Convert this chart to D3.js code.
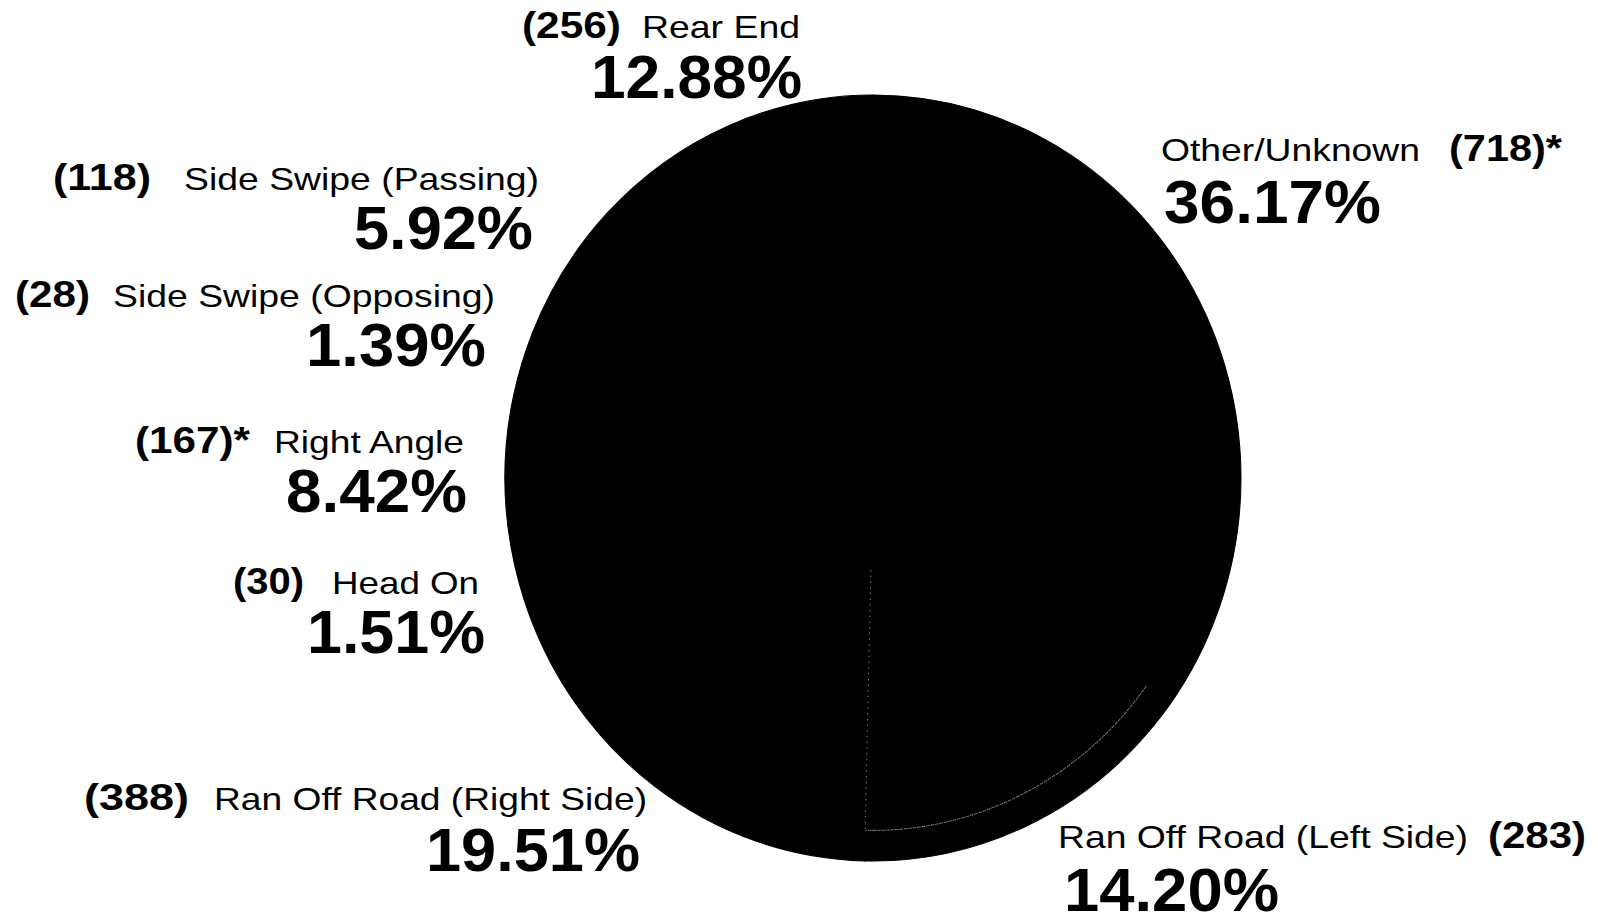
<!DOCTYPE html>
<html>
<head>
<meta charset="utf-8">
<script src="https://cdn.jsdelivr.net/npm/d3@7/dist/d3.min.js"></script>
<style>
  html, body { margin: 0; padding: 0; background: #fff; }
  svg { display: block; }
  text { font-family: "Liberation Sans Narrow", "Liberation Sans", Arial, Helvetica, sans-serif; fill: #000; }
</style>
</head>
<body>
<svg id="chart" width="1598" height="924"></svg>
<script>
// Crash types, clockwise from 12 o'clock
const categories = [
  "Other/Unknown",
  "Ran Off Road (Left Side)",
  "Ran Off Road (Right Side)",
  "Head On",
  "Right Angle",
  "Side Swipe (Opposing)",
  "Side Swipe (Passing)",
  "Rear End"
];
const counts = [718, 283, 388, 30, 167, 28, 118, 256];
const percents = [36.17, 14.20, 19.51, 1.51, 8.42, 1.39, 5.92, 12.88];
const countNotes = ["*", "", "", "", "*", "", "", ""];

// Label placement: count/name line and percent line for each slice
const labelLayout = [
  { nameX: 1161, nameW: 259, countX: 1449, countW: 113, y1: 161, pctX: 1164, pctW: 217, y2: 223 },
  { nameX: 1058, nameW: 410, countX: 1488, countW: 98,  y1: 848, pctX: 1064, pctW: 215, y2: 911 },
  { countX: 84,  countW: 105, nameX: 214, nameW: 433, y1: 810, pctX: 426,  pctW: 214, y2: 871 },
  { countX: 233, countW: 71,  nameX: 332, nameW: 147, y1: 594, pctX: 307,  pctW: 178, y2: 653 },
  { countX: 135, countW: 115, nameX: 274, nameW: 190, y1: 453, pctX: 286,  pctW: 181, y2: 512 },
  { countX: 15,  countW: 75,  nameX: 113, nameW: 382, y1: 307, pctX: 306,  pctW: 180, y2: 366 },
  { countX: 53,  countW: 98,  nameX: 184, nameW: 355, y1: 190, pctX: 354,  pctW: 179, y2: 249 },
  { countX: 522, countW: 99,  nameX: 642, nameW: 158, y1: 38,  pctX: 591,  pctW: 211, y2: 98 }
];

const svg = d3.select("#chart");

// Pie geometry (slightly taller than wide)
const cx = 873, cy = 478, rx = 368, ry = 383;

const slices = d3.pie().sort(null).value(d => d)(percents);
const arc = d3.arc().innerRadius(0).outerRadius(rx);

const pieG = svg.append("g")
  .attr("transform", `translate(${cx},${cy}) scale(1,${ry / rx})`);

pieG.selectAll("path.slice")
  .data(slices)
  .join("path")
  .attr("class", "slice")
  .attr("d", arc)
  .attr("fill", "#000")
  .attr("stroke", "#000")
  .attr("stroke-width", 1);

// Faint dotted outline inside the left-side run-off slice
const left = slices[1];
const inner = rx * 0.92;
const outlineArc = d3.arc().innerRadius(inner).outerRadius(inner)
  .startAngle(left.startAngle - 0.07).endAngle(left.endAngle);
pieG.append("path")
  .attr("d", outlineArc())
  .attr("fill", "none")
  .attr("stroke", "#8a8a8a")
  .attr("stroke-width", 1)
  .attr("stroke-dasharray", "1.5 3");
const p0 = d3.pointRadial(left.endAngle, rx * 0.24);
const p1 = d3.pointRadial(left.endAngle, inner);
pieG.append("line")
  .attr("x1", p0[0]).attr("y1", p0[1])
  .attr("x2", p1[0]).attr("y2", p1[1])
  .attr("stroke", "#777")
  .attr("stroke-width", 1)
  .attr("stroke-dasharray", "1.5 4");

// Labels
const fmtPct = d3.format(".2f");
const labels = svg.append("g").attr("class", "labels");

categories.forEach((name, i) => {
  const L = labelLayout[i];
  labels.append("text")
    .attr("x", L.countX).attr("y", L.y1)
    .attr("font-size", 37).attr("font-weight", "bold")
    .attr("textLength", L.countW).attr("lengthAdjust", "spacingAndGlyphs")
    .text(`(${counts[i]})${countNotes[i]}`);
  labels.append("text")
    .attr("x", L.nameX).attr("y", L.y1)
    .attr("font-size", 32)
    .attr("textLength", L.nameW).attr("lengthAdjust", "spacingAndGlyphs")
    .text(name);
  labels.append("text")
    .attr("x", L.pctX).attr("y", L.y2)
    .attr("font-size", 62).attr("font-weight", "bold")
    .attr("textLength", L.pctW).attr("lengthAdjust", "spacingAndGlyphs")
    .text(fmtPct(percents[i]) + "%");
});
</script>
</body>
</html>
